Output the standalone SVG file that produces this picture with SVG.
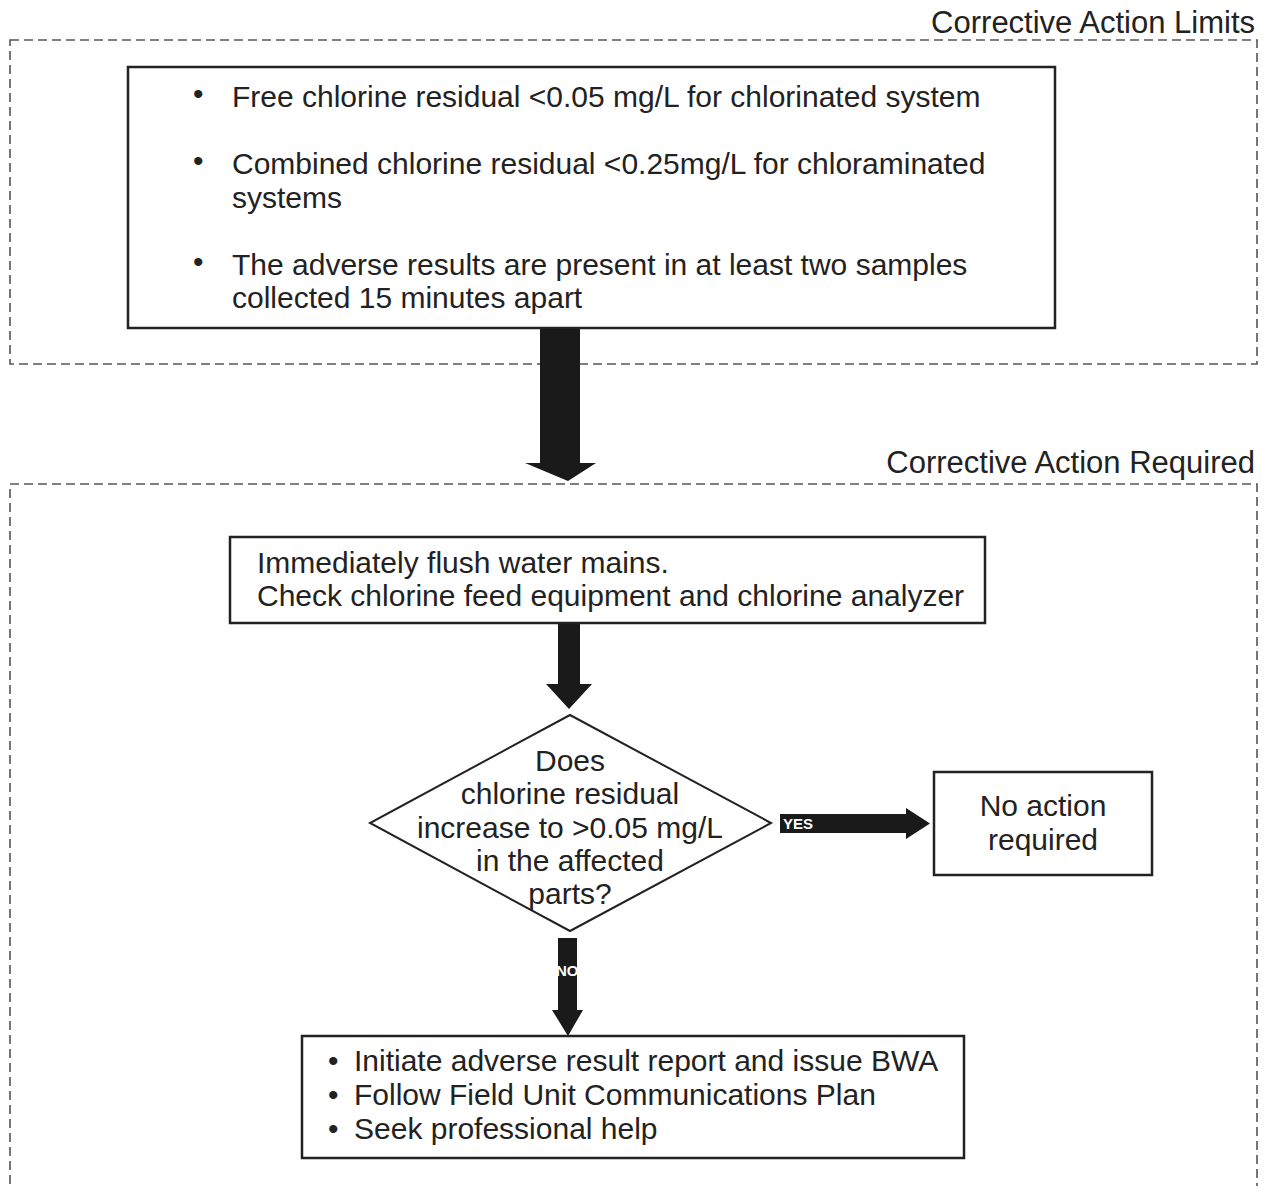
<svg xmlns="http://www.w3.org/2000/svg" width="1267" height="1186" viewBox="0 0 1267 1186">
  <style>
    .zone { fill: none; stroke: #555; stroke-width: 1.6; stroke-dasharray: 9 5; }
    .box { fill: #fff; stroke: #222; stroke-width: 2.5; }
    .t { font-family: "Liberation Sans", Arial, sans-serif; font-size: 30px; fill: #222; }
    .zt { font-family: "Liberation Sans", Arial, sans-serif; font-size: 31px; fill: #222; text-anchor: end; }
    .c { text-anchor: middle; }
    .arrow { fill: #1a1a1a; }
    .lbl { font-family: "Liberation Sans", Arial, sans-serif; font-size: 15px; font-weight: bold; fill: #fff; }
  </style>
  <rect width="1267" height="1186" fill="#fff"/>

  <!-- zone frames -->
  <g id="zone-limits">
    <rect class="zone" x="10" y="40" width="1247" height="324"/>
    <text class="zt" x="1255" y="33">Corrective Action Limits</text>
  </g>
  <g id="zone-required">
    <rect class="zone" x="10" y="484" width="1247" height="720"/>
    <text class="zt" x="1255" y="473">Corrective Action Required</text>
  </g>

  <!-- connectors -->
  <g id="connectors">
    <polygon class="arrow" points="540,328 580,328 580,463 596,463 568,481 525,463 540,463"/>
    <polygon class="arrow" points="558,623 580,623 580,684 592,684 569,709 546,684 558,684"/>
    <g id="edge-yes">
      <polygon class="arrow" points="780,814 906,814 906,808 930,823.5 906,839 906,833 780,833"/>
      <text class="lbl" x="783" y="829">YES</text>
    </g>
    <g id="edge-no">
      <polygon class="arrow" points="558,938 577,938 577,1010 583,1010 568,1036 552,1010 558,1010"/>
      <text class="lbl" x="556" y="976">NO</text>
    </g>
  </g>

  <!-- limits box -->
  <g id="node-limits">
    <rect class="box" x="128" y="67" width="927" height="261"/>
    <text class="t" x="193" y="104">•</text>
    <text class="t" x="232" y="107">Free chlorine residual &lt;0.05 mg/L for chlorinated system</text>
    <text class="t" x="193" y="171">•</text>
    <text class="t" x="232" y="174">Combined chlorine residual &lt;0.25mg/L for chloraminated</text>
    <text class="t" x="232" y="208">systems</text>
    <text class="t" x="193" y="272">•</text>
    <text class="t" x="232" y="275">The adverse results are present in at least two samples</text>
    <text class="t" x="232" y="308">collected 15 minutes apart</text>
  </g>

  <!-- first action -->
  <g id="node-flush">
    <rect class="box" x="230" y="537" width="755" height="86"/>
    <text class="t" x="257" y="573">Immediately flush water mains.</text>
    <text class="t" x="257" y="606">Check chlorine feed equipment and chlorine analyzer</text>
  </g>

  <!-- decision -->
  <g id="node-decision">
    <polygon class="box" points="570,715 771,823 570,931 370,823" style="stroke-width:2"/>
    <text class="t c" x="570" y="771">Does</text>
    <text class="t c" x="570" y="804">chlorine residual</text>
    <text class="t c" x="570" y="838">increase to &gt;0.05 mg/L</text>
    <text class="t c" x="570" y="871">in the affected</text>
    <text class="t c" x="570" y="904">parts?</text>
  </g>

  <!-- yes outcome -->
  <g id="node-no-action">
    <rect class="box" x="934" y="772" width="218" height="103"/>
    <text class="t c" x="1043" y="816">No action</text>
    <text class="t c" x="1043" y="850">required</text>
  </g>

  <!-- no outcome -->
  <g id="node-bwa">
    <rect class="box" x="302" y="1036" width="662" height="122"/>
    <text class="t" x="328" y="1071">•</text>
    <text class="t" x="354" y="1071">Initiate adverse result report and issue BWA</text>
    <text class="t" x="328" y="1105">•</text>
    <text class="t" x="354" y="1105">Follow Field Unit Communications Plan</text>
    <text class="t" x="328" y="1139">•</text>
    <text class="t" x="354" y="1139">Seek professional help</text>
  </g>
</svg>
